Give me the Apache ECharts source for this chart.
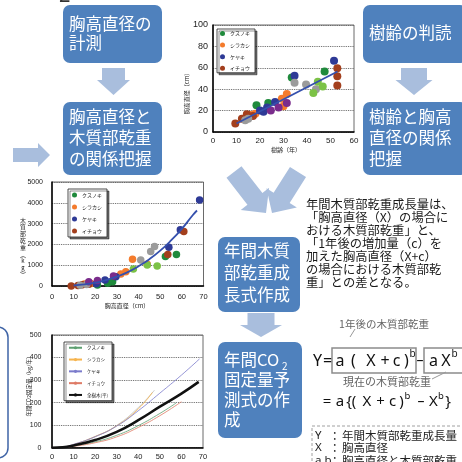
<!DOCTYPE html>
<html><head><meta charset="utf-8">
<script src="https://cdn.jsdelivr.net/npm/echarts@6/dist/echarts.min.js"></script>
<style>html,body{margin:0;padding:0;background:#fff}#c{width:462px;height:462px}</style>
</head><body><div id="c"></div>
<script>
// ---- 樹齢 × 胸高直径 (年, cm) ----
const ageDbhKusunoki = [[18.5,25],[23.5,27],[33.5,51],[47.5,56.5]];
const ageDbhShirakashi = [[16,16],[18,17],[29.3,31],[30,24],[31.4,35.5]];
const ageDbhKeyaki = [[20,20],[21.5,19],[23,23],[26.4,28],[34.7,52.5],[51.5,66.5]];
const ageDbhIcho = [[9.5,8],[12.3,12.5],[14.4,16.5],[17,15],[52.9,59.5],[52.9,52],[52.9,43.5]];
const ageDbhGray = [[13.7,11],[15,12.5],[34.7,46],[39.6,44.5],[43.8,40]];
const ageDbhPurple = [[24.6,20],[27.9,23],[31.4,27]];
const ageDbhLime = [[42.7,36.5],[44.6,47],[46.7,42.5]];
const ageDbhFit = [[10,8],[53,56.5]];

// ---- 胸高直径 × 木質部乾重 (cm, kg) ----
const dbhWtKusunoki = [[21,50],[25.7,130],[28,210],[52.4,1415],[57.5,1520]];
const dbhWtShirakashi = [[15,100],[18,120],[31.8,580],[34.1,690],[37.2,1290],[44,1045]];
const dbhWtKeyaki = [[20.5,110],[24.5,290],[29.5,450],[54,1865],[59.3,2700],[68.2,4130]];
const dbhWtIcho = [[8.9,0],[12,30],[14,60],[17,90],[53.5,1510],[60.9,2620]];
const dbhWtGray = [[13,40],[16,70],[41,1250],[45.6,1660],[47.4,1900]];
const dbhWtPurple = [[17,200],[21,260],[28.4,480]];
const dbhWtLime = [[37.6,820],[44,1010],[48.6,965]];
const dbhWtFit = [[10,25],[15,75],[20,160],[25,280],[30,450],[35,670],[40,950],[45,1290],[50,1700],[55,2190],[60,2750],[65,3400],[67,3630]];

// ---- 胸高直径 × 年間CO2固定量 (cm, kg/年) ----
const co2Kusunoki = [[0,0],[5,2],[10,8],[20,26],[30,55],[40,98],[50,152],[57.5,198]];
const co2Shirakashi = [[0,0],[5,3],[10,14],[20,50],[30,97],[40,172],[46.5,245]];
const co2Other = [[0,0],[5,3],[10,13],[20,48],[30,99],[40,178],[47.5,255]];
const co2Keyaki = [[0,0],[5,3],[10,15],[20,49],[30,96],[40,164],[50,242],[60,322],[68.4,394]];
const co2Icho = [[0,0],[5,1.5],[10,6],[20,22],[30,48],[40,90],[50,142],[60,204]];
const co2All = [[0,0],[5,2],[10,10],[20,34],[30,70],[40,122],[50,182],[60,240],[68,292]];

const xTicks1 = [0,60,10], yTicks1 = [0,100,20];
const xTicks2 = [0,70,10], yTicks2 = [0,5000,1000];
const xTicks3 = [0,70,10], yTicks3 = [0,500,100];

const C = {green:'#1f8a3c', orange:'#f47b2c', navy:'#2e3a96', brown:'#a33f1d', gray:'#9b9b9b', purple:'#7a2c8c', lime:'#7cc246', fit:'#3550ad'};
const JP = '"Noto Sans CJK JP", sans-serif';
const BOX = '#4f81bd', ARROW = '#a9bedd';

const chart = echarts.init(document.getElementById('c'), null, {renderer:'canvas'});

function axisX(gi, t, fs, fam, margin){
  return {gridIndex:gi, type:'value', min:t[0], max:t[1], interval:t[2],
    axisLine:{onZero:false, lineStyle:{color:'#000', width:1.5}}, axisTick:{show:false},
    axisLabel:{fontSize:fs, fontFamily:fam, color:'#222', margin:margin, formatter:v => String(v)}, splitLine:{show:false}};
}
function axisY(gi, t, fs, fam, margin){
  return {gridIndex:gi, type:'value', min:t[0], max:t[1], interval:t[2],
    axisLine:{show:true, onZero:false, lineStyle:{color:'#000', width:1.5}}, axisTick:{show:false},
    axisLabel:{fontSize:fs, fontFamily:fam, color:'#222', margin:margin, formatter:v => String(v)},
    splitLine:{show:true, lineStyle:{type:'dotted', color:'#555', width:0.9}}};
}
function sc(name, gi, data, color, size){
  return {name, type:'scatter', xAxisIndex:gi, yAxisIndex:gi, data, symbolSize:size,
    itemStyle:{color, opacity:1}, z:3, silent:true};
}
function ln(name, gi, data, color, width, z){
  return {name, type:'line', xAxisIndex:gi, yAxisIndex:gi, data, smooth:true, symbol:'none',
    lineStyle:{color, width}, itemStyle:{color}, z:z||4, silent:true};
}
function legendBox(left, top, names, opts){
  return Object.assign({orient:'vertical', left, top, data:names, selectedMode:false,
    formatter: n => n.slice(3), backgroundColor:'#fff', borderColor:'#222', borderWidth:0.8,
    shadowColor:'rgba(0,0,0,0.55)', shadowOffsetX:2, shadowOffsetY:2, shadowBlur:0,
    textStyle:{fontSize:5, fontFamily:JP, color:'#222'}}, opts);
}

function arrowPts(tx,ty,px,py,sw,hw,hl){
  const dx=px-tx, dy=py-ty, L=Math.hypot(dx,dy), ux=dx/L, uy=dy/L, nx=-uy, ny=ux;
  const bx=px-ux*hl, by=py-uy*hl;
  return [[tx+nx*sw,ty+ny*sw],[bx+nx*sw,by+ny*sw],[bx+nx*hw,by+ny*hw],[px,py],
          [bx-nx*hw,by-ny*hw],[bx-nx*sw,by-ny*sw],[tx-nx*sw,ty-ny*sw]];
}
function arrow(tx,ty,px,py,sw,hw,hl){
  return {type:'polygon', shape:{points:arrowPts(tx,ty,px,py,sw,hw,hl)}, style:{fill:ARROW}, z:1};
}
function box(x,y,w,h){ return {type:'rect', shape:{x,y,width:w,height:h,r:7}, style:{fill:BOX}, z:1}; }
function txt(x,y,text,size,color,extra){
  return {type:'text', x, y, z:5, style:Object.assign({text, fill:color, font:size+'px '+JP, verticalAlign:'top'}, extra||{})};
}
function boxText(x,y,text,lh){ return txt(x,y,text,16.5,'#fff',{lineHeight:lh}); }
function tok(text,cx,cy,size,color){
  return {type:'text', x:cx, y:cy, z:5, style:{text, fill:color||'#111', font:size+'px "Noto Sans", sans-serif', align:'center', verticalAlign:'middle'}};
}

const para = ['年間木質部乾重成長量は、','「胸高直径（X）の場合に','おける木質部乾重」と、','「1年後の増加量（c）を','加えた胸高直径（X+c）','の場合における木質部乾','重」との差となる。'];

const graphics = [
  {type:'text', x:59, y:-14, style:{text:'2', font:'20px "Noto Sans", sans-serif', fill:'#333'}},
  // 流れ図の箱
  box(63,5,99,58), boxText(69,14.5,'胸高直径の\n計測',19),
  box(63,102,99,73), boxText(69,106.5,'胸高直径と\n木質部乾重\nの関係把握',21),
  box(363,5,104,58), boxText(369,23,'樹齢の判読',19),
  box(363,102,104,73), boxText(369,106.5,'樹齢と胸高\n直径の関係\n把握',21),
  box(218,237,82,75), boxText(224,240,'年間木質\n部乾重成\n長式作成',22),
  box(218,342,84,96), boxText(224,350,'年間CO\n固定量予\n測式の作\n成',20),
  txt(282,361,'2',10,'#fff'),
  // 矢印
  arrow(113.5,68,113.5,95,11.5,16.5,15),
  arrow(414,68,414,95,13,18.5,15),
  arrow(13,155,50,155,7,12,12),
  arrow(261,313,261,337,13.5,21,12),
  arrow(234,172,266,213,9.5,18,18),
  arrow(298,172,272,213,9.5,18,18),
  // 左下の枠
  {type:'rect', shape:{x:-30,y:327,width:38,height:131,r:10}, style:{fill:'none', stroke:'#3f64a6', lineWidth:1.5}, z:1},
  // 説明文
  txt(306,197.5,para.join('\n'),12.3,'#1a1a1a',{lineHeight:13.1}),
  // 式
  txt(384,319,'1年後の木質部乾重',10.5,'#666',{align:'center'}),
  {type:'line', shape:{x1:355,y1:329,x2:350,y2:337}, style:{stroke:'#999', lineWidth:1}, z:5},
  {type:'rect', shape:{x:332,y:348,width:84,height:25}, style:{fill:'none', stroke:'#8c8c8c', lineWidth:1.5}, z:4},
  {type:'rect', shape:{x:424,y:348,width:60,height:25}, style:{fill:'none', stroke:'#8c8c8c', lineWidth:1.5}, z:4},
  tok('Y',317.5,361,16), tok('=',327.5,361,16), tok('a',340,361,16), tok('(',353.5,361,16),
  tok('X',371,361,16), tok('+',385,361,16), tok('c',396.5,361,16), tok(')',406.5,361,16),
  tok('b',412.5,354,10), tok('–',420,361,14), tok('a',433.5,361,16), tok('X',446,361,16), tok('b',454.5,354,10),
  txt(387,376.5,'現在の木質部乾重',11,'#666',{align:'center'}),
  {type:'line', shape:{x1:432,y1:379,x2:446,y2:372}, style:{stroke:'#999', lineWidth:1}, z:5},
  tok('=',327,402,15), tok('a',340,402,15), tok('{',349,402,15), tok('(',354,402,15),
  tok('X',367,402,15), tok('+',380.5,402,15), tok('c',392.5,402,15), tok(')',401.5,402,15),
  tok('b',407.5,396,9.5), tok('–',421,402,14), tok('X',433.5,402,15), tok('b',441,396,9.5), tok('}',448,402,15),
  // 記号の説明枠
  {type:'rect', shape:{x:312,y:426,width:170,height:60}, style:{fill:'none', stroke:'#a0a0a0', lineWidth:1, lineDash:[3,2]}, z:4},
  txt(315,429,'Y\nX\na,b',11.5,'#222',{lineHeight:12.5, font:'11.5px "Noto Sans", sans-serif'}),
  txt(329,429,'：\n：\n：',11.5,'#222',{lineHeight:12.5}),
  txt(342,429,'年間木質部乾重成長量\n胸高直径\n胸高直径と木質部乾重',11.5,'#222',{lineHeight:12.5}),
  // 軸タイトル
  {type:'text', x:187, y:92, rotation:Math.PI/2, z:5, style:{text:'胸高直径（cm）', font:'6px '+JP, fill:'#222', align:'center', verticalAlign:'middle'}},
  txt(286,147,'樹齢（年）',6,'#222',{align:'center'}),
  txt(23,217,'木\n質\n部\n乾\n重\n︵\nk\ng\n︶',6,'#222',{align:'center', lineHeight:6.8}),
  txt(127,303,'胸高直径（cm）',6,'#222',{align:'center'}),
  {type:'text', x:29, y:385, rotation:Math.PI/2, z:5, style:{text:'年間CO2固定量（kg/年）', font:'5.5px '+JP, fill:'#222', align:'center', verticalAlign:'middle'}}
];

const option = {
  backgroundColor:'#fff',
  animation:false,
  grid:[
    {left:213, top:25, width:141, height:107, show:true, borderColor:'#444', borderWidth:0.8},
    {left:52, top:182, width:151.5, height:104, show:true, borderColor:'#444', borderWidth:0.8},
    {left:52, top:335, width:151, height:112.7, show:true, borderColor:'#444', borderWidth:0.8}
  ],
  xAxis:[
    axisX(0, xTicks1, 8, '"Liberation Sans Narrow", "Liberation Sans"', 5),
    axisX(1, xTicks2, 7.5, '"Liberation Sans"', 7),
    axisX(2, xTicks3, 7.5, '"Liberation Sans Narrow", "Liberation Sans"', 5)
  ],
  yAxis:[
    axisY(0, yTicks1, 9, '"Liberation Sans"', 5),
    axisY(1, yTicks2, 7, '"Liberation Sans"', 9),
    axisY(2, yTicks3, 7, '"Liberation Sans Narrow", "Liberation Sans"', 10.5)
  ],
  legend:[
    legendBox(217, 29, ['g1:クスノキ','g1:シラカシ','g1:ケヤキ','g1:イチョウ'],
      {icon:'circle', itemWidth:5, itemHeight:5, itemGap:6.6, padding:[2,5,2,3]}),
    legendBox(68, 189, ['g2:クスノキ','g2:シラカシ','g2:ケヤキ','g2:イチョウ'],
      {icon:'circle', itemWidth:5, itemHeight:5, itemGap:7, padding:[3.5,5,3.5,4]}),
    legendBox(64, 342, ['g3:クスノキ','g3:シラカシ','g3:ケヤキ','g3:イチョウ','g3:全樹木(平)'],
      {itemWidth:13, itemHeight:4, itemGap:7.3, padding:[3.5,4,3.5,4], textStyle:{fontSize:4.5, fontFamily:JP, color:'#222'}})
  ],
  series:[
    sc('g1:クスノキ',0,ageDbhKusunoki,C.green,8),
    sc('g1:シラカシ',0,ageDbhShirakashi,C.orange,8),
    sc('g1:ケヤキ',0,ageDbhKeyaki,C.navy,8),
    sc('g1:イチョウ',0,ageDbhIcho,C.brown,8),
    sc('g1:gray',0,ageDbhGray,C.gray,8),
    sc('g1:purple',0,ageDbhPurple,C.purple,8),
    sc('g1:lime',0,ageDbhLime,C.lime,8),
    ln('g1:fit',0,ageDbhFit,C.fit,1.8,6),
    sc('g2:クスノキ',1,dbhWtKusunoki,C.green,7.5),
    sc('g2:シラカシ',1,dbhWtShirakashi,C.orange,7.5),
    sc('g2:ケヤキ',1,dbhWtKeyaki,C.navy,7.5),
    sc('g2:イチョウ',1,dbhWtIcho,C.brown,7.5),
    sc('g2:gray',1,dbhWtGray,C.gray,7.5),
    sc('g2:purple',1,dbhWtPurple,C.purple,7.5),
    sc('g2:lime',1,dbhWtLime,C.lime,7.5),
    ln('g2:fit',1,dbhWtFit,C.fit,1.8,6),
    ln('g3:other',2,co2Other,'#bdbdbd',0.8),
    ln('g3:クスノキ',2,co2Kusunoki,'#5d9f70',0.8),
    ln('g3:シラカシ',2,co2Shirakashi,'#f6b44e',0.8),
    ln('g3:ケヤキ',2,co2Keyaki,'#7b7bcb',0.8),
    ln('g3:イチョウ',2,co2Icho,'#de7b66',0.8),
    ln('g3:全樹木(平)',2,co2All,'#111',2.5)
  ],
  graphic:{elements:graphics}
};
chart.setOption(option);
</script></body></html>
